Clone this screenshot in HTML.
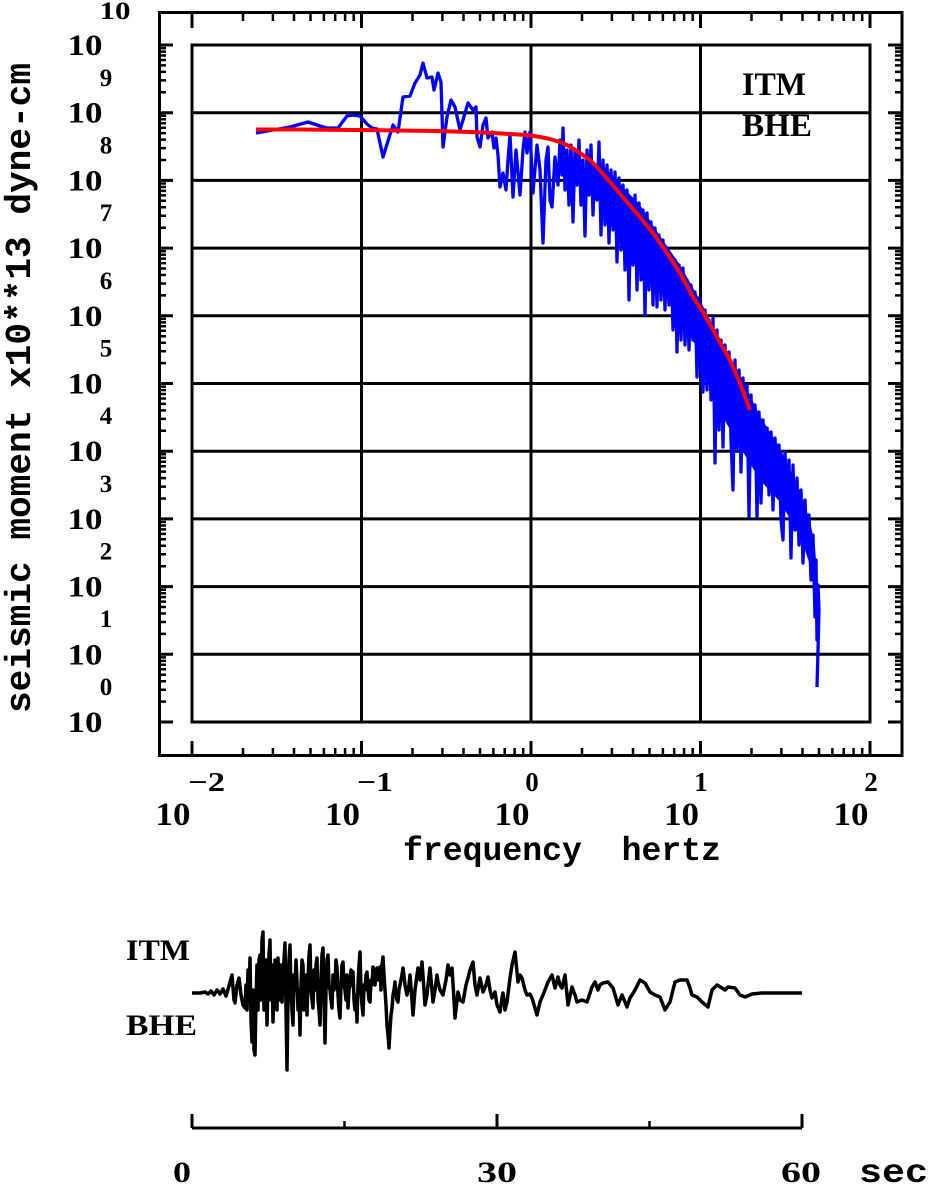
<!DOCTYPE html>
<html><head><meta charset="utf-8"><style>
html,body{margin:0;padding:0;background:#fff;}
svg{display:block;}
.s{font-family:"Liberation Serif",serif;font-weight:bold;fill:#000;}
.m{font-family:"Liberation Mono",monospace;font-weight:bold;fill:#000;}
</style></head><body>
<svg xmlns="http://www.w3.org/2000/svg" xmlns:xlink="http://www.w3.org/1999/xlink" width="928" height="1184" viewBox="0 0 928 1184">
<rect width="928" height="1184" fill="#fff"/>
<g stroke="#000" fill="none" stroke-width="3">
<rect x="159.5" y="12.5" width="742.5" height="743"/>
<rect x="192" y="45" width="678" height="677"/>
<path d="M192 654.3H870M192 586.6H870M192 518.9H870M192 451.2H870M192 383.5H870M192 315.8H870M192 248.1H870M192 180.4H870M192 112.7H870M361.5 45V722M531 45V722M700.5 45V722"/>
</g>
<g id="lt" stroke="#000" stroke-width="2.5" fill="none">
<path stroke-width="3" d="M158 722h15M158 654.3h15M158 586.6h15M158 518.9h15M158 451.2h15M158 383.5h15M158 315.8h15M158 248.1h15M158 180.4h15M158 112.7h15M158 45h15"/>
<path d="M158 701.6h8M158 689.7h8M158 681.2h8M158 674.7h8M158 669.3h8M158 664.8h8M158 660.9h8M158 657.4h8
M158 633.9h8M158 622h8M158 613.5h8M158 607h8M158 601.6h8M158 597.1h8M158 593.2h8M158 589.7h8
M158 566.2h8M158 554.3h8M158 545.8h8M158 539.3h8M158 533.9h8M158 529.4h8M158 525.5h8M158 522h8
M158 498.5h8M158 486.6h8M158 478.1h8M158 471.6h8M158 466.2h8M158 461.7h8M158 457.8h8M158 454.3h8
M158 430.8h8M158 418.9h8M158 410.4h8M158 403.9h8M158 398.5h8M158 394h8M158 390.1h8M158 386.6h8
M158 363.1h8M158 351.2h8M158 342.7h8M158 336.2h8M158 330.8h8M158 326.3h8M158 322.4h8M158 318.9h8
M158 295.4h8M158 283.5h8M158 275h8M158 268.5h8M158 263.1h8M158 258.6h8M158 254.7h8M158 251.2h8
M158 227.7h8M158 215.8h8M158 207.3h8M158 200.8h8M158 195.4h8M158 190.9h8M158 187h8M158 183.5h8
M158 160h8M158 148.1h8M158 139.6h8M158 133.1h8M158 127.7h8M158 123.2h8M158 119.3h8M158 115.8h8
M158 92.3h8M158 80.4h8M158 71.9h8M158 65.4h8M158 60h8M158 55.5h8M158 51.6h8M158 48.1h8"/>
</g>
<use xlink:href="#lt" href="#lt" transform="translate(1061,0) scale(-1,1)"/>
<g id="bt" stroke="#000" stroke-width="2.5" fill="none">
<path stroke-width="3" d="M192 756v-15M361.5 756v-15M531 756v-15M700.5 756v-15M870 756v-15"/>
<path d="M243 756v-8M272.9 756v-8M294 756v-8M310.5 756v-8M323.9 756v-8M335.2 756v-8M345.1 756v-8M353.7 756v-8
M412.5 756v-8M442.4 756v-8M463.5 756v-8M480 756v-8M493.4 756v-8M504.7 756v-8M514.6 756v-8M523.2 756v-8
M582 756v-8M611.9 756v-8M633 756v-8M649.5 756v-8M662.9 756v-8M674.2 756v-8M684.1 756v-8M692.7 756v-8
M751.5 756v-8M781.4 756v-8M802.5 756v-8M819 756v-8M832.4 756v-8M843.7 756v-8M853.6 756v-8M862.2 756v-8"/>
</g>
<use xlink:href="#bt" href="#bt" transform="translate(0,769) scale(1,-1)"/>

<!-- blue spectrum core band -->
<polygon fill="#0000ff" points="600,162 620,184 640,205 660,236 680,265 700,300 720,340 740,375 760,416 780,448 800,491 810,521 815,546 818,590 818,622 812,572 805,550 795,527 780,502 760,480 740,447 720,412 700,352 680,320 660,287 640,257 620,226 600,196"/>
<!-- blue spectrum -->
<polyline fill="none" stroke="#0000ff" stroke-width="3.3" stroke-linejoin="round" points="256,133 273,130 290,127 308,122 320,126 327,128 338,128 347,116 353,115 360,116 367,124 372,128 377,129 383,157 393,125 398,132 403,97 410,96 415,83 420,75 423,63 427,78 432,77 434,90 438,73 441,82 443,147 447,117 451,100 455,107 460,130 468,103 473,110 476,107 477,137 480,147 483,125 486,118 488,138 492,132 494,148 496,138 498,155 500,187 503,173 506,190 508,160 510,135 513,197 516,150 520,195 523,150 525,132 527,153 530,132 533,193 537,145 540,170 543,243 546,160 548,147 550,200 552,207 555,157 558,185 560,140 562,175 563,128 565,190 567,150 569,205 571,145 573,222 575,150 577,185 579,140 581,205 583,160 585,236 587,150 589,195 591,145 593,215 595,165 597,200 599,142 601,235 603,160 605,225 607,165 609,243 611,170 613,230 615,172 617,262 619,178 621,250 623,185 625,270 627,190 629,300 631,198 633,265 635,195 637,290 639,203 641,280 643,210 645,315 647,213 649,290 651,222 653,305 655,228 657,307 659,235 661,300 663,240 665,310 667,248 669,305 671,255 673,330 675,260 677,352 679,265 681,340 683,268 685,345 687,280 689,350 691,285 693,340 695,292 697,377 699,298 701,365 703,392 705,310 707,390 709,320 711,400 713,318 715,463 717,330 719,430 721,340 723,447 725,345 727,420 729,352 731,440 733,490 735,360 737,450 739,370 741,472 743,378 745,440 747,385 749,517 751,395 753,455 755,405 757,517 759,412 761,503 763,420 765,470 767,428 769,495 771,432 773,510 775,438 777,485 779,445 781,520 783,540 785,452 787,505 789,460 791,558 793,465 795,530 797,478 799,545 801,490 803,563 805,500 807,550 809,515 811,580 813,535 815,617 816,560 817,640 818,585 819,610 818,650 817,687"/>
<!-- red model -->
<polyline fill="none" stroke="#ff0000" stroke-width="4" stroke-linejoin="round" points="256,129.5 300,129.5 353,130 400,130.5 437,131 470,132 493,133 510,134 527,135 540,137 550,139 560,142 567,145 580,153 590,160 597,167 610,182 627,202 640,217 653,233 667,253 680,273 693,297 703,312 717,337 730,360 740,383 750,410"/>

<!-- y tick labels -->
<g class="s" font-size="30" text-anchor="middle">
<text x="85" y="55" textLength="35" lengthAdjust="spacingAndGlyphs">10</text>
<text x="85" y="122.7" textLength="35" lengthAdjust="spacingAndGlyphs">10</text>
<text x="85" y="190.4" textLength="35" lengthAdjust="spacingAndGlyphs">10</text>
<text x="85" y="258.1" textLength="35" lengthAdjust="spacingAndGlyphs">10</text>
<text x="85" y="325.8" textLength="35" lengthAdjust="spacingAndGlyphs">10</text>
<text x="85" y="393.5" textLength="35" lengthAdjust="spacingAndGlyphs">10</text>
<text x="85" y="461.2" textLength="35" lengthAdjust="spacingAndGlyphs">10</text>
<text x="85" y="528.9" textLength="35" lengthAdjust="spacingAndGlyphs">10</text>
<text x="85" y="596.6" textLength="35" lengthAdjust="spacingAndGlyphs">10</text>
<text x="85" y="664.3" textLength="35" lengthAdjust="spacingAndGlyphs">10</text>
<text x="85" y="732" textLength="35" lengthAdjust="spacingAndGlyphs">10</text>
</g>
<g class="s" font-size="25" text-anchor="middle">
<text x="115" y="19" textLength="31" lengthAdjust="spacingAndGlyphs">10</text>
<text x="106" y="86">9</text>
<text x="106" y="153.5">8</text>
<text x="106" y="221">7</text>
<text x="106" y="289">6</text>
<text x="106" y="356.5">5</text>
<text x="106" y="424">4</text>
<text x="106" y="492">3</text>
<text x="106" y="559.5">2</text>
<text x="106" y="627">1</text>
<text x="106" y="695">0</text>
</g>

<!-- x tick labels -->
<g class="s" font-size="33" text-anchor="middle">
<text x="173" y="825" textLength="35" lengthAdjust="spacingAndGlyphs">10</text>
<text x="342.5" y="825" textLength="35" lengthAdjust="spacingAndGlyphs">10</text>
<text x="512" y="825" textLength="35" lengthAdjust="spacingAndGlyphs">10</text>
<text x="681.5" y="825" textLength="35" lengthAdjust="spacingAndGlyphs">10</text>
<text x="851" y="825" textLength="35" lengthAdjust="spacingAndGlyphs">10</text>
</g>
<g class="s" font-size="27">
<text x="188" y="791" textLength="37" lengthAdjust="spacingAndGlyphs">−2</text>
<text x="357" y="791" textLength="36" lengthAdjust="spacingAndGlyphs">−1</text>
<text x="532" y="791" text-anchor="middle">0</text>
<text x="701" y="791" text-anchor="middle">1</text>
<text x="871" y="791" text-anchor="middle">2</text>
</g>
<text class="m" x="403" y="860" font-size="33" textLength="318" lengthAdjust="spacingAndGlyphs" xml:space="preserve">frequency  hertz</text>
<text class="m" font-size="36" text-anchor="middle" transform="translate(30,388) rotate(-90)" textLength="650" lengthAdjust="spacingAndGlyphs">seismic moment x10**13 dyne-cm</text>

<!-- in-plot labels -->
<text class="s" x="742" y="95" font-size="33" textLength="64" lengthAdjust="spacingAndGlyphs">ITM</text>
<text class="s" x="742" y="136" font-size="33" textLength="70" lengthAdjust="spacingAndGlyphs">BHE</text>

<!-- seismogram -->
<text class="s" x="126" y="960" font-size="30" textLength="64" lengthAdjust="spacingAndGlyphs">ITM</text>
<text class="s" x="126" y="1035" font-size="30" textLength="71" lengthAdjust="spacingAndGlyphs">BHE</text>
<polyline fill="none" stroke="#000" stroke-width="3.5" stroke-linejoin="round" points="192,993 200,993 205,992 208,994 211,991 214,995 217,990 220,994 223,989 226,996 229,986 232,975 234,1000 235,1003 237,985 239,978 241,995 243,1005 245,1008 246,985 247,1010 248,970 249,1000 250,958 251,1020 252,1042 253,990 254,1050 255,1055 256,1000 257,965 258,1010 259,960 260,955 261,1000 262,940 263,932 264,1010 265,990 266,960 267,1025 268,985 269,955 270,940 271,1000 272,965 273,1022 274,990 275,960 276,975 277,1010 278,958 279,995 280,1000 281,965 282,1002 283,975 284,960 285,943 286,1010 287,1070 288,1000 289,960 290,945 291,990 292,1010 293,1025 294,975 295,990 296,960 297,982 298,1010 299,990 300,1035 301,985 302,960 303,965 304,1010 305,1000 306,975 307,1015 308,980 309,955 310,945 311,990 312,1000 313,1008 314,970 315,990 316,965 317,958 318,1000 319,1010 320,1025 321,980 322,955 323,948 324,1000 325,1043 326,990 327,960 328,955 329,985 330,990 331,1000 332,1008 333,975 334,990 335,985 336,960 337,968 338,995 339,1010 340,1018 341,985 342,965 343,962 344,985 345,990 346,1000 347,975 348,1008 349,990 350,985 351,970 352,985 353,972 354,1000 355,1010 356,995 357,1022 358,985 359,965 360,952 361,990 362,1005 363,1015 364,985 365,990 366,975 367,972 368,990 369,1000 370,1002 371,980 372,985 373,967 374,975 375,985 376,970 377,968 378,980 379,975 380,967 381,990 382,965 383,957 384,975 385,990 386,1005 387,1025 388,1035 389,1048 390,1030 391,1015 392,1008 393,995 394,990 395,982 396,995 397,1000 398,1002 399,990 400,985 402,975 403,968 405,985 407,995 409,985 410,975 412,1000 413,1015 415,990 417,975 418,968 420,980 422,962 424,990 425,1005 427,995 428,985 430,968 432,990 433,1002 435,990 437,975 438,982 440,990 443,995 446,980 448,965 450,975 452,968 454,1000 455,1018 458,992 460,1000 463,1002 466,985 468,978 470,970 473,962 475,985 477,995 480,978 483,992 486,985 488,977 490,990 492,998 495,992 497,1005 500,1012 502,998 503,993 505,1010 507,1002 510,978 512,965 515,952 518,982 520,975 522,978 525,990 527,995 530,994 532,998 535,1008 537,1015 540,1002 545,990 548,982 552,975 555,988 558,977 560,985 562,988 565,975 568,1005 572,987 575,995 577,1002 582,1000 587,1002 590,993 592,987 595,982 598,990 600,985 603,983 608,982 613,988 616,998 618,1005 622,995 625,1002 627,1007 630,998 632,995 635,990 640,980 645,983 650,992 655,995 660,997 665,1010 670,1002 673,990 675,982 680,980 687,980 690,988 692,995 697,997 702,1002 708,1007 712,990 717,985 722,988 725,990 728,987 735,988 740,995 745,997 752,994 762,993 778,993 802,993"/>

<!-- time axis -->
<g stroke="#000" stroke-width="3" fill="none">
<path d="M192 1128H802M192 1128V1114M497 1128V1114M802 1128V1114"/>
<path stroke-width="2.5" d="M344.5 1128V1121M649.5 1128V1121"/>
</g>
<g class="s" font-size="30" text-anchor="middle">
<text x="182" y="1182" textLength="18" lengthAdjust="spacingAndGlyphs">0</text>
<text x="497" y="1182" textLength="40" lengthAdjust="spacingAndGlyphs">30</text>
<text x="801" y="1182" textLength="40" lengthAdjust="spacingAndGlyphs">60</text>
</g>
<text class="m" x="859" y="1182" font-size="33" textLength="69" lengthAdjust="spacingAndGlyphs">sec</text>
</svg>
</body></html>
